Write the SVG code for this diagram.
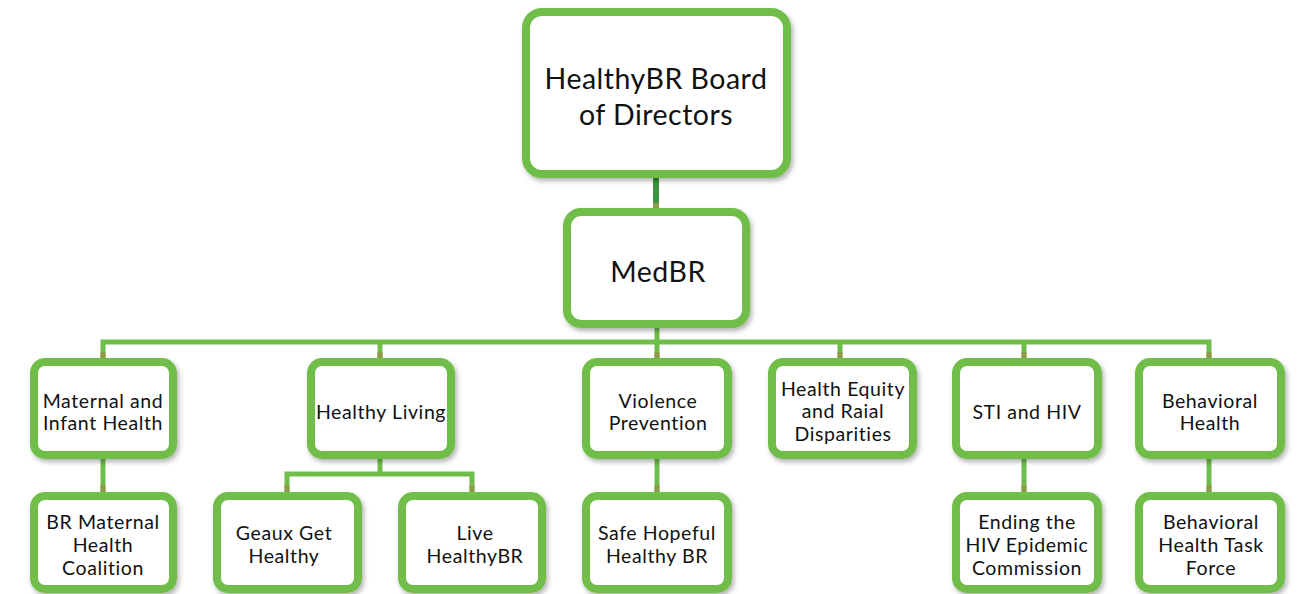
<svg xmlns="http://www.w3.org/2000/svg" width="1297" height="594" viewBox="0 0 1297 594">
<defs>
<filter id="sh" x="-10%" y="-10%" width="130%" height="130%">
<feDropShadow dx="2" dy="3" stdDeviation="2.5" flood-color="#000" flood-opacity="0.3"/>
</filter>
<style>
.box{fill:#fff;stroke:#6fbe4a;stroke-width:8;filter:url(#sh)}
.ln{fill:none;stroke:#6fbe4a;stroke-width:5}
.jt{fill:#8d9c4c}
text{font-family:"Lato","Noto Sans","DejaVu Sans",sans-serif;fill:#111;text-anchor:middle}
.t1{font-size:28.5px;letter-spacing:0.5px}
.t2{font-size:19.5px;letter-spacing:0.6px}
</style>
</defs>
<rect width="1297" height="594" fill="#fff"/>
<g id="connectors">
<line x1="656" y1="176" x2="656" y2="210" stroke="#3a9440" stroke-width="6"/>
<rect class="jt" x="653" y="203" width="6" height="7"/>
<line class="ln" x1="657" y1="326" x2="657" y2="358"/>
<polyline class="ln" points="103,358 103,342 1209,342 1209,358"/>
<line class="ln" x1="380" y1="342" x2="380" y2="358"/>
<line class="ln" x1="840" y1="342" x2="840" y2="358"/>
<line class="ln" x1="1024" y1="342" x2="1024" y2="358"/>
<line class="ln" x1="103" y1="456" x2="103" y2="492"/>
<line class="ln" x1="657" y1="456" x2="657" y2="492"/>
<line class="ln" x1="1024" y1="456" x2="1024" y2="492"/>
<line class="ln" x1="1209" y1="456" x2="1209" y2="492"/>
<line class="ln" x1="380" y1="456" x2="380" y2="474"/>
<polyline class="ln" points="287,492 287,474 472,474 472,492"/>
<rect class="jt" x="100.5" y="352" width="5" height="6"/>
<rect class="jt" x="377.5" y="352" width="5" height="6"/>
<rect class="jt" x="654.5" y="352" width="5" height="6"/>
<rect class="jt" x="837.5" y="352" width="5" height="6"/>
<rect class="jt" x="1021.5" y="352" width="5" height="6"/>
<rect class="jt" x="1206.5" y="352" width="5" height="6"/>
<rect class="jt" x="100.5" y="485" width="5" height="7"/>
<rect class="jt" x="654.5" y="485" width="5" height="7"/>
<rect class="jt" x="1021.5" y="485" width="5" height="7"/>
<rect class="jt" x="1206.5" y="485" width="5" height="7"/>
<rect class="jt" x="284.5" y="485" width="5" height="7"/>
<rect class="jt" x="469.5" y="485" width="5" height="7"/>
</g>
<g id="board">
<rect class="box" x="526" y="12" width="261" height="162" rx="16"/>
<text class="t1" x="656" y="89">HealthyBR Board</text>
<text class="t1" x="656" y="125">of Directors</text>
</g>
<g id="medbr">
<rect class="box" x="567" y="212" width="179" height="112" rx="14"/>
<text class="t1" x="658" y="282">MedBR</text>
</g>
<g id="maternal">
<rect class="box" x="34" y="362" width="139" height="93" rx="11"/>
<text class="t2" x="103" y="408">Maternal and</text>
<text class="t2" x="103" y="430">Infant Health</text>
</g>
<g id="healthy-living">
<rect class="box" x="311" y="362" width="140" height="93" rx="11"/>
<text class="t2" x="381" y="419">Healthy Living</text>
</g>
<g id="violence">
<rect class="box" x="586" y="362" width="142" height="93" rx="11"/>
<text class="t2" x="658" y="408">Violence</text>
<text class="t2" x="658" y="430">Prevention</text>
</g>
<g id="equity">
<rect class="box" x="772" y="362" width="141" height="93" rx="11"/>
<text class="t2" x="843" y="396">Health Equity</text>
<text class="t2" x="843" y="418">and Raial</text>
<text class="t2" x="843" y="441">Disparities</text>
</g>
<g id="sti">
<rect class="box" x="956" y="362" width="142" height="93" rx="11"/>
<text class="t2" x="1027" y="419">STI and HIV</text>
</g>
<g id="behavioral">
<rect class="box" x="1139" y="362" width="142" height="93" rx="11"/>
<text class="t2" x="1210" y="408">Behavioral</text>
<text class="t2" x="1210" y="430">Health</text>
</g>
<g id="br-maternal">
<rect class="box" x="34" y="496" width="139" height="93" rx="11"/>
<text class="t2" x="103" y="529">BR Maternal</text>
<text class="t2" x="103" y="552">Health</text>
<text class="t2" x="103" y="575">Coalition</text>
</g>
<g id="geaux">
<rect class="box" x="217" y="496" width="141" height="93" rx="11"/>
<text class="t2" x="284" y="540">Geaux Get</text>
<text class="t2" x="284" y="563">Healthy</text>
</g>
<g id="live">
<rect class="box" x="402" y="496" width="140" height="93" rx="11"/>
<text class="t2" x="475" y="540">Live</text>
<text class="t2" x="475" y="563">HealthyBR</text>
</g>
<g id="safe">
<rect class="box" x="586" y="496" width="142" height="93" rx="11"/>
<text class="t2" x="657" y="540">Safe Hopeful</text>
<text class="t2" x="657" y="563">Healthy BR</text>
</g>
<g id="ending">
<rect class="box" x="956" y="496" width="142" height="93" rx="11"/>
<text class="t2" x="1027" y="529">Ending the</text>
<text class="t2" x="1027" y="552">HIV Epidemic</text>
<text class="t2" x="1027" y="575">Commission</text>
</g>
<g id="bh-task">
<rect class="box" x="1139" y="496" width="142" height="93" rx="11"/>
<text class="t2" x="1211" y="529">Behavioral</text>
<text class="t2" x="1211" y="552">Health Task</text>
<text class="t2" x="1211" y="575">Force</text>
</g>
</svg>
